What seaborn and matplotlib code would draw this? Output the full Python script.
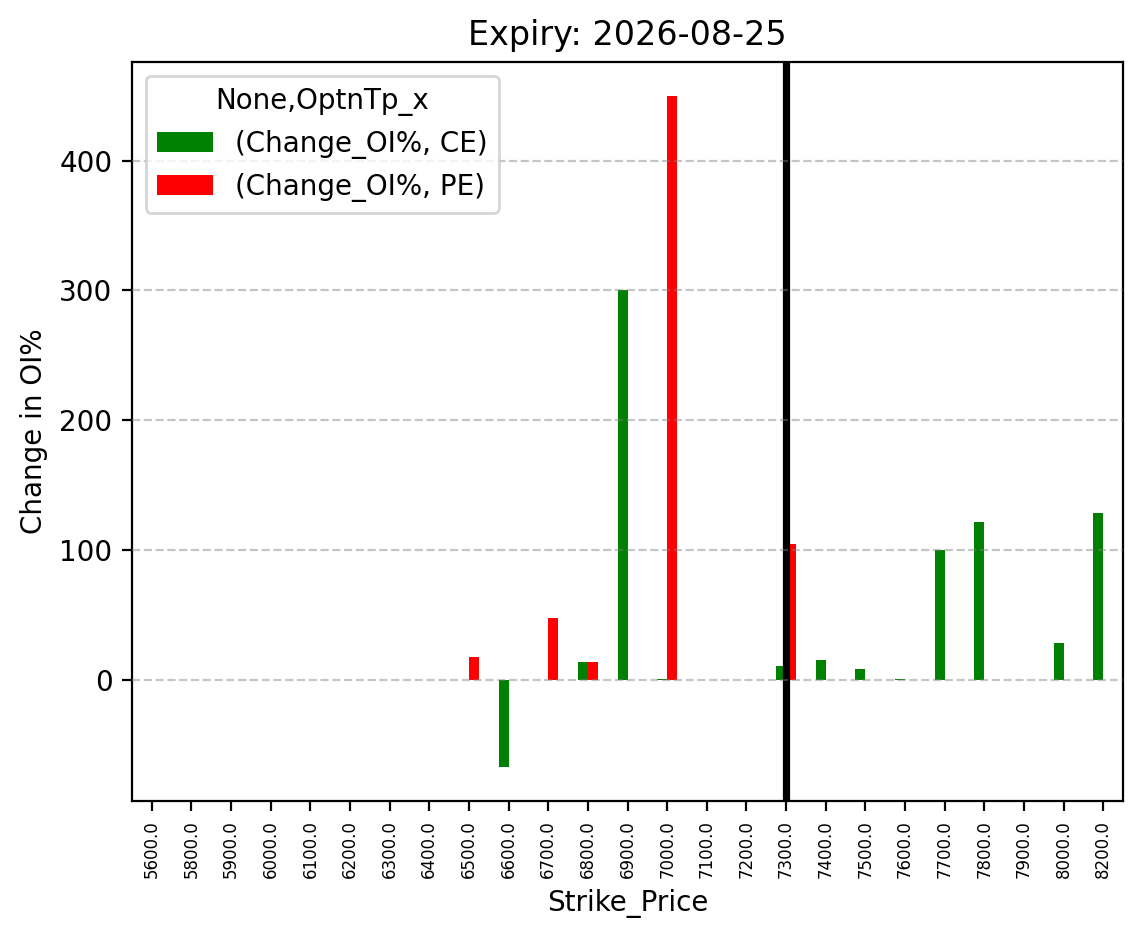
#!/usr/bin/env python3
# -*- coding: utf-8 -*-
"""
Change in OI% per strike (CE / PE)
"""
import numpy as np
import pandas as pd
import matplotlib
matplotlib.use('Agg')
import matplotlib.pyplot as plt
import seaborn as sns

##### data
expiry = "2026-08-25"
strikes = [5600.0, 5800.0, 5900.0, 6000.0, 6100.0, 6200.0, 6300.0, 6400.0,
           6500.0, 6600.0, 6700.0, 6800.0, 6900.0, 7000.0, 7100.0, 7200.0,
           7300.0, 7400.0, 7500.0, 7600.0, 7700.0, 7800.0, 7900.0, 8000.0,
           8200.0]
nan = np.nan
ce_change = [nan, nan, nan, nan, nan, nan, nan, nan,
             nan, -67, nan, 14, 300, 1, nan, nan,
             11, 16, 8.5, 1, 100, 122, nan, 28.5,
             128.5]
pe_change = [nan, nan, nan, nan, nan, nan, nan, nan,
             18, nan, 48, 14, nan, 450, nan, nan,
             105, nan, nan, nan, nan, nan, nan, nan,
             nan]
spot_strike = 7300.0

labels = [str(s) for s in strikes]
df = pd.concat([
    pd.DataFrame({"Strike_Price": labels, "Change_OI%": ce_change, "OptnTp_x": "CE"}),
    pd.DataFrame({"Strike_Price": labels, "Change_OI%": pe_change, "OptnTp_x": "PE"}),
], ignore_index=True)

##### plot
fig, ax = plt.subplots(figsize=(5.715, 4.695), dpi=200)
fig.subplots_adjust(left=0.1155, right=0.9825, top=0.934, bottom=0.147)

sns.barplot(data=df, x="Strike_Price", y="Change_OI%", hue="OptnTp_x",
            order=labels, hue_order=["CE", "PE"],
            palette={"CE": "green", "PE": "red"}, saturation=1,
            width=0.5, errorbar=None, linewidth=0, ax=ax)

# spot line
ax.axvline(labels.index(str(spot_strike)), color="black", lw=2.6)

ax.set_axisbelow(False)
ax.yaxis.grid(True, linestyle="--", color="gray", alpha=0.45)
ax.xaxis.grid(False)

ax.set_title("Expiry: " + expiry, fontsize=12)
ax.set_xlabel("Strike_Price")
ax.set_ylabel("Change in OI%")
ax.tick_params(axis="x", labelrotation=90, labelsize=6)

handles, _ = ax.get_legend_handles_labels()
ax.legend(handles, ["(Change_OI%, CE)", "(Change_OI%, PE)"],
          title="None,OptnTp_x", loc="upper left")

plt.savefig("out.png", dpi=200)
plt.close()
